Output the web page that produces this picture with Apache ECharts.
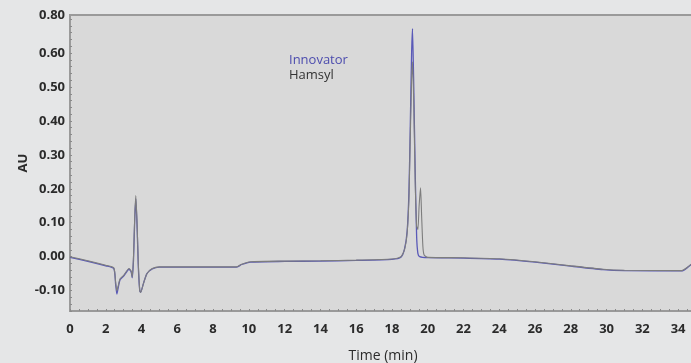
<!DOCTYPE html>
<html>
<head>
<meta charset="utf-8">
<script src="https://cdn.jsdelivr.net/npm/echarts@6/dist/echarts.min.js"></script>
<style>
html,body{margin:0;padding:0;background:#e5e6e7;}
#c{width:691px;height:363px;}
</style>
</head>
<body>
<div id="c"></div>
<script>
// Time (min) and absorbance (AU)
const innovatorTime = [0, 1.0, 2.0, 2.45, 2.55, 2.62, 2.7, 2.8, 3.0, 3.3, 3.42, 3.48, 3.55, 3.62, 3.68, 3.75, 3.82, 3.9, 3.95, 4.1, 4.3, 4.6, 5.0, 9.3, 9.6, 10.1, 12, 14, 16, 18, 18.5, 18.7, 18.85, 18.95, 19.02, 19.1, 19.15, 19.22, 19.3, 19.38, 19.45, 19.55, 20, 22, 24, 26, 28, 29.8, 31, 34.2, 34.5, 35];
const innovatorAU   = [-0.002, -0.014, -0.027, -0.035, -0.08, -0.11, -0.09, -0.068, -0.057, -0.037, -0.045, -0.062, -0.01, 0.11, 0.17, 0.09, -0.03, -0.1, -0.105, -0.08, -0.05, -0.036, -0.031, -0.031, -0.023, -0.016, -0.014, -0.013, -0.011, -0.008, -0.002, 0.022, 0.075, 0.19, 0.37, 0.6, 0.672, 0.5, 0.25, 0.06, 0.01, 0.0, -0.003, -0.004, -0.007, -0.016, -0.028, -0.038, -0.041, -0.042, -0.033, -0.011];
const hamsylTime = [0, 1.0, 2.0, 2.45, 2.55, 2.62, 2.7, 2.8, 3.0, 3.3, 3.42, 3.48, 3.55, 3.62, 3.68, 3.75, 3.82, 3.9, 3.95, 4.1, 4.3, 4.6, 5.0, 9.3, 9.6, 10.1, 12, 14, 16, 18, 18.5, 18.7, 18.85, 18.95, 19.02, 19.1, 19.15, 19.22, 19.3, 19.38, 19.45, 19.52, 19.6, 19.66, 19.73, 19.8, 20, 22, 24, 26, 28, 29.8, 31, 34.2, 34.5, 35];
const hamsylAU   = [0.0, -0.012, -0.025, -0.033, -0.075, -0.1, -0.085, -0.065, -0.055, -0.035, -0.042, -0.06, 0.0, 0.12, 0.18, 0.1, -0.02, -0.1, -0.105, -0.08, -0.05, -0.035, -0.03, -0.03, -0.022, -0.015, -0.013, -0.012, -0.01, -0.007, 0.0, 0.02, 0.07, 0.17, 0.34, 0.52, 0.574, 0.45, 0.22, 0.09, 0.08, 0.15, 0.203, 0.12, 0.03, 0.005, -0.002, -0.003, -0.006, -0.015, -0.027, -0.037, -0.04, -0.041, -0.032, -0.01];
const xTickLabels = [0, 2, 4, 6, 8, 10, 12, 14, 16, 18, 20, 22, 24, 26, 28, 30, 32, 34];
const yTickValues = [-0.1, 0, 0.1, 0.2, 0.3, 0.4, 0.5, 0.6, 0.712];
const yTickLabels = ['-0.10', '0.00', '0.10', '0.20', '0.30', '0.40', '0.50', '0.60', '0.80'];

const zip = (a, b) => a.map((v, i) => [v, b[i]]);
const yMinor = [];
for (let v = -0.16; v <= 0.712; v += 0.02) yMinor.push(+v.toFixed(3));
const xMinor = [];
for (let v = 0; v <= 35; v += 0.5) xMinor.push(v);

const chart = echarts.init(document.getElementById('c'), null, {renderer: 'canvas'});
const axisFont = {color: '#2b2b2b', fontSize: 13, fontWeight: 'bold', fontFamily: 'Open Sans'};
chart.setOption({
  animation: false,
  backgroundColor: '#e5e6e7',
  grid: {left: 70, top: 15, bottom: 52, right: -5, outerBoundsMode: 'none', containLabel: false,
         show: true, backgroundColor: '#d9d9d9', borderColor: '#9a9a9a', borderWidth: 2},
  legend: {
    orient: 'vertical', left: 279, top: 49, itemWidth: 0, itemHeight: 0, itemGap: 2,
    textStyle: {fontSize: 13, fontFamily: 'Open Sans'},
    data: [
      {name: 'Innovator', icon: 'rect', textStyle: {color: '#4c4cae'}},
      {name: 'Hamsyl', icon: 'rect', textStyle: {color: '#333333'}}
    ]
  },
  xAxis: {
    type: 'value', min: 0, max: 35,
    name: 'Time (min)', nameLocation: 'middle', nameGap: 38,
    nameTextStyle: {color: '#2b2b2b', fontSize: 14, fontFamily: 'Open Sans'},
    axisLine: {show: true, onZero: false, lineStyle: {color: '#9a9a9a', width: 2}},
    axisTick: {show: true, inside: true, length: 2, customValues: xMinor, lineStyle: {color: '#8a8a8a'}},
    minorTick: {show: false},
    splitLine: {show: false},
    axisLabel: {...axisFont, margin: 12, customValues: xTickLabels, formatter: v => String(v)}
  },
  yAxis: {
    type: 'value', min: -0.16, max: 0.712,
    name: 'AU', nameLocation: 'middle', nameGap: 40, nameRotate: 90, nameMoveOverlap: false,
    nameTextStyle: {color: '#2b2b2b', fontSize: 13, fontWeight: 'bold', fontFamily: 'Open Sans'},
    axisLine: {show: true, onZero: false, lineStyle: {color: '#9a9a9a', width: 2}},
    axisTick: {show: true, inside: true, length: 2, customValues: yMinor, lineStyle: {color: '#8a8a8a'}},
    splitLine: {show: false},
    axisLabel: {...axisFont, margin: 5, customValues: yTickValues,
      formatter: v => { const i = yTickValues.findIndex(t => Math.abs(t - v) < 1e-6); return i >= 0 ? yTickLabels[i] : ''; }}
  },
  series: [
    {name: 'Innovator', type: 'line', data: zip(innovatorTime, innovatorAU), showSymbol: false, smooth: 0.2,
     lineStyle: {color: '#5a5ab8', width: 1.3}, itemStyle: {color: '#5a5ab8'}},
    {name: 'Hamsyl', type: 'line', data: zip(hamsylTime, hamsylAU), showSymbol: false, smooth: 0.2,
     lineStyle: {color: '#7d7d7d', width: 1.1}, itemStyle: {color: '#7d7d7d'}}
  ]
});
</script>
</body>
</html>
